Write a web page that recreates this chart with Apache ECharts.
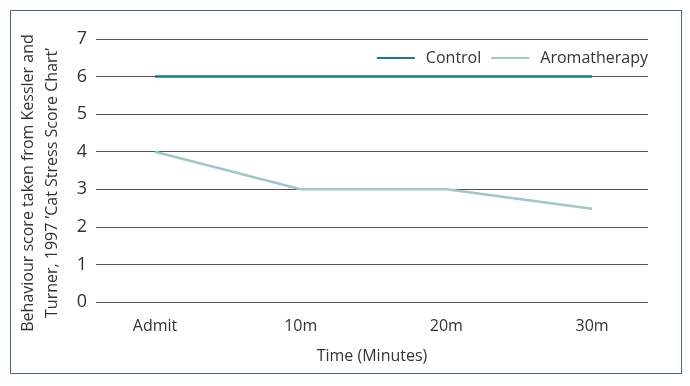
<!DOCTYPE html>
<html><head><meta charset="utf-8">
<script src="https://cdn.jsdelivr.net/npm/echarts@6/dist/echarts.min.js"></script>
<style>html,body{margin:0;padding:0;background:#fff}#c{width:690px;height:386px}</style>
</head><body><div id="c"></div>
<script>
const categories = ['Admit', '10m', '20m', '30m'];
const control = [6, 6, 6, 6];
const aromatherapy = [4, 3, 3, 2.48];
const yTicks = [0, 1, 2, 3, 4, 5, 6, 7];

const FONT = '"Open Sans", "Noto Sans", sans-serif';
const chart = echarts.init(document.getElementById('c'));
chart.setOption({
  animation: false,
  textStyle: { fontFamily: FONT },
  grid: { left: 96, right: 42, top: 39, bottom: 84 },
  legend: {
    top: 45, right: 37,
    itemWidth: 38, itemHeight: 2, itemGap: 10,
    icon: 'rect',
    textStyle: { fontSize: 16, color: '#333', fontFamily: FONT, padding: [0, 0, 0, 6] },
    data: ['Control', 'Aromatherapy']
  },
  xAxis: {
    type: 'value', min: -0.405, max: 3.384,
    name: 'Time (Minutes)', nameLocation: 'middle', nameGap: 46,
    nameTextStyle: { fontSize: 16, color: '#333', fontFamily: FONT },
    axisLine: { show: false }, axisTick: { show: false }, splitLine: { show: false },
    axisLabel: {
      customValues: categories.map((c, i) => i),
      formatter: v => categories[Math.round(v)] || '',
      fontSize: 16, color: '#333', margin: 16, fontFamily: FONT
    }
  },
  yAxis: {
    type: 'value', min: 0, max: 7, interval: 1,
    axisLine: { show: false }, axisTick: { show: false },
    splitLine: { lineStyle: { color: '#555', width: 1 } },
    axisLabel: { fontSize: 18, color: '#333', margin: 9, fontFamily: FONT,
      formatter: v => yTicks.includes(v) ? String(v) : '' }
  },
  graphic: [
    { type: 'rect', shape: { x: 10.5, y: 10.5, width: 671, height: 363 },
      style: { fill: 'none', stroke: '#4a6582', lineWidth: 1 }, silent: true },
    { type: 'text', x: 40, y: 183, rotation: Math.PI / 2,
      style: { text: 'Behaviour score taken from Kessler and\nTurner, 1997 ’Cat Stress Score Chart’',
        fontSize: 16, fill: '#333', fontFamily: FONT, align: 'center', verticalAlign: 'middle', lineHeight: 24 } }
  ],
  series: [
    { name: 'Control', type: 'line', data: control.map((v, i) => [i, v]),
      symbol: 'none', lineStyle: { color: '#1e7b7d', width: 2.5 }, itemStyle: { color: '#1e7b7d' } },
    { name: 'Aromatherapy', type: 'line', data: aromatherapy.map((v, i) => [i, v]),
      symbol: 'none', lineStyle: { color: '#a3c7c6', width: 2.5 }, itemStyle: { color: '#a3c7c6' } }
  ]
});
</script></body></html>
